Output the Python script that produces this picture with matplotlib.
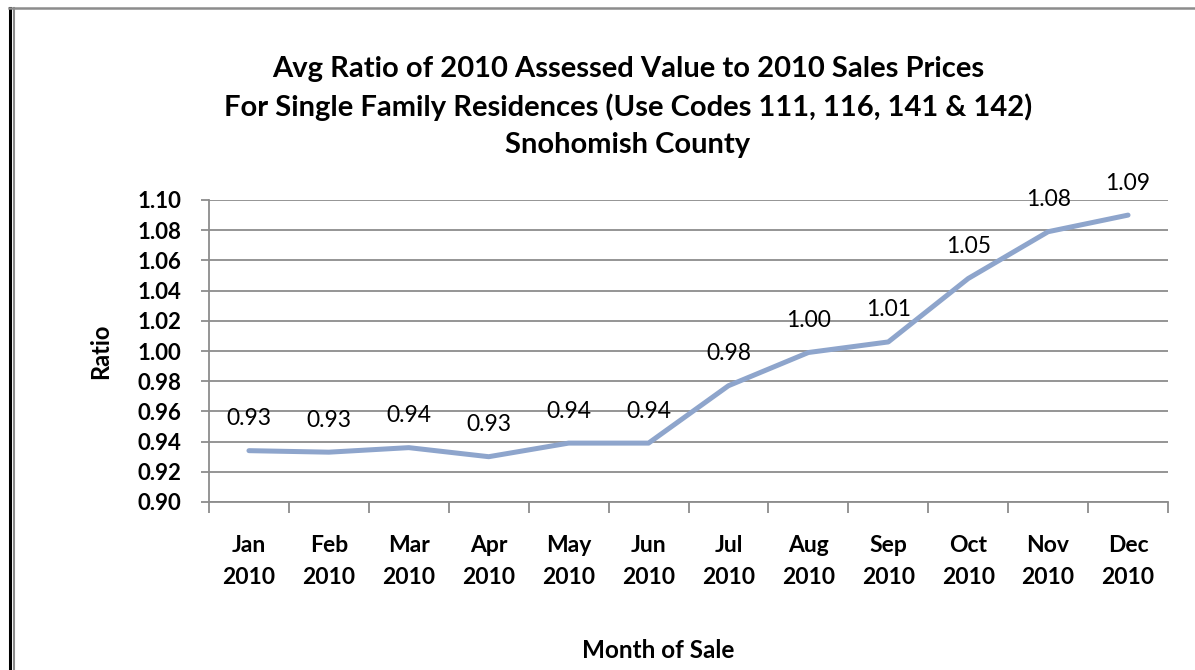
import numpy as np
import matplotlib.pyplot as plt
from matplotlib.lines import Line2D

plt.rcParams['font.family'] = ['Lato', 'DejaVu Sans']

# values
months = ["Jan", "Feb", "Mar", "Apr", "May", "Jun",
          "Jul", "Aug", "Sep", "Oct", "Nov", "Dec"]
year = "2010"
ratio = [0.934, 0.933, 0.936, 0.930, 0.939, 0.939,
         0.977, 0.999, 1.006, 1.048, 1.079, 1.090]
yticks = [0.90, 0.92, 0.94, 0.96, 0.98, 1.00, 1.02, 1.04, 1.06, 1.08, 1.10]

title = ("Avg Ratio of 2010 Assessed Value to 2010 Sales Prices\n"
         "For Single Family Residences (Use Codes 111, 116, 141 & 142)\n"
         "Snohomish County")

W, H = 1195, 670
fig = plt.figure(figsize=(W / 100, H / 100), dpi=100)
ax = fig.add_axes([209 / W, 1 - 502 / H, (1168 - 209) / W, (502 - 200) / H])

grid_c = "#8c8c8c"
x = np.arange(len(months))
ax.plot(x, ratio, color="#8ea5cc", lw=3.6, solid_capstyle="round",
        solid_joinstyle="round", zorder=3)
for xi, v in zip(x, ratio):
    ax.annotate(f"{v:.2f}", (xi, v), xytext=(0, 23), textcoords="offset points",
                ha="center", va="center", fontsize=16.5, color="black")

ax.set_xlim(-0.5, len(months) - 0.5)
ax.set_ylim(0.90, 1.10)
ax.set_yticks(yticks)
ax.set_yticklabels([f"{t:.2f}" for t in yticks], fontsize=16, fontweight="bold")
ax.yaxis.grid(True, color=grid_c, lw=1.3)
ax.set_axisbelow(True)

# category ticks sit between the months
ax.set_xticks(np.arange(-0.5, len(months), 1.0))
ax.set_xticklabels([])
ax.set_xticks(x, minor=True)
ax.set_xticklabels([f"{m}\n{year}" for m in months], minor=True,
                   fontsize=16.5, fontweight="bold", linespacing=1.62)
ax.tick_params(axis="x", which="minor", length=0, pad=24)
ax.tick_params(axis="x", which="major", length=8, color=grid_c, width=1.3)
ax.tick_params(axis="y", length=6, color=grid_c, width=1.3, pad=14)

for s in ["top", "right"]:
    ax.spines[s].set_visible(False)
for s in ["left", "bottom"]:
    ax.spines[s].set_color(grid_c)
    ax.spines[s].set_linewidth(1.3)

ax.set_ylabel("Ratio", fontsize=17, fontweight="bold", labelpad=18)
fig.text(658 / W, 1 - 650 / H, "Month of Sale", ha="center", va="center",
         fontsize=17.5, fontweight="bold")
fig.text(628 / W, 1 - 107 / H, title, ha="center", va="center",
         fontsize=21, fontweight="bold", linespacing=1.5)

# frame of the chart area
fig.add_artist(Line2D([10 / W, 10 / W], [0, 1 - 8 / H], color="black", lw=2.2,
                      transform=fig.transFigure))
fig.add_artist(Line2D([13.5 / W, 13.5 / W], [0, 1 - 8 / H], color="#8c8c8c", lw=1.5,
                      transform=fig.transFigure))
fig.add_artist(Line2D([9 / W, 1], [1 - 8 / H, 1 - 8 / H], color="#8c8c8c", lw=1.8,
                      transform=fig.transFigure))

fig.savefig("out.png", dpi=100)
